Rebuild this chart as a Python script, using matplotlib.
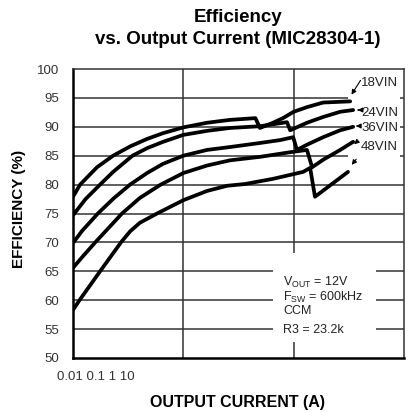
import matplotlib
matplotlib.use("Agg")
import matplotlib.pyplot as plt
from matplotlib.patches import Rectangle

plt.rcParams["font.family"] = ["Liberation Sans", "DejaVu Sans"]

# ---- data ----
i_18 = [0.01, 0.0116, 0.0165, 0.0231, 0.0329, 0.0469, 0.0655, 0.1, 0.164, 0.265, 0.45, 0.495, 0.65, 0.8, 1.0, 1.32, 1.85, 3.25]
e_18 = [77.9, 80.0, 83.0, 85.0, 86.6, 87.9, 88.9, 89.9, 90.7, 91.2, 91.5, 89.8, 90.7, 91.5, 92.6, 93.4, 94.2, 94.4]

i_24 = [0.01, 0.013, 0.0176, 0.0231, 0.0346, 0.0469, 0.0655, 0.1, 0.164, 0.265, 0.495, 0.87, 0.93, 1.32, 1.85, 2.64, 3.46]
e_24 = [74.7, 77.5, 80.0, 82.2, 85.0, 86.3, 87.4, 88.6, 89.3, 89.8, 90.1, 90.8, 89.4, 90.7, 91.7, 92.6, 92.9]

i_36 = [0.01, 0.0121, 0.0168, 0.0233, 0.0329, 0.0469, 0.0655, 0.1, 0.164, 0.265, 0.495, 0.753, 0.99, 1.07, 1.32, 1.85, 2.64, 3.46]
e_36 = [69.9, 72.0, 75.0, 77.6, 80.0, 82.0, 83.6, 85.0, 86.0, 86.5, 87.2, 87.7, 88.2, 86.0, 86.9, 88.2, 89.4, 90.0]

i_48 = [0.01, 0.0123, 0.0159, 0.0278, 0.0404, 0.0624, 0.1, 0.164, 0.265, 0.495, 0.927, 1.32, 1.47, 1.85, 2.64, 3.46]
e_48 = [65.6, 67.6, 70.0, 75.0, 77.7, 80.0, 82.0, 83.3, 84.2, 84.8, 85.6, 86.0, 83.0, 84.3, 86.0, 87.4]

i_5 = [0.01, 0.01145, 0.0176, 0.0272, 0.0329, 0.0404, 0.0578, 0.1, 0.164, 0.25, 0.362, 0.65, 1.22, 1.41, 1.56, 3.11]
e_5 = [58.3, 60.0, 65.0, 70.0, 71.9, 73.4, 75.0, 77.3, 78.9, 79.8, 80.1, 81.0, 82.2, 82.9, 77.9, 82.2]

series_labels = ["18VIN", "24VIN", "36VIN", "48VIN", ""]
xtick_labels = ["0.01", "0.1", "1", "10"]
yticks = [50, 55, 60, 65, 70, 75, 80, 85, 90, 95, 100]

fig = plt.figure(figsize=(4.12, 4.12), dpi=100)
ax = fig.add_axes([73/412, 54/412, 331/412, 289/412])
ax.set_xscale("log")
ax.set_xlim(0.01, 10)
ax.set_ylim(50, 100)

for y in yticks[1:-1]:
    ax.axhline(y, color="#333333", lw=1.1, zorder=0.5)
for x in [0.1, 1]:
    ax.axvline(x, color="#333333", lw=1.1, zorder=0.5)

# white areas behind labels / note
ax.add_patch(Rectangle((0.83, 0.685), 0.158, 0.295, transform=ax.transAxes,
                       facecolor="white", edgecolor="none", zorder=1))
ax.add_patch(Rectangle((0.605, 0.055), 0.31, 0.31, transform=ax.transAxes,
                       facecolor="white", edgecolor="none", zorder=1))

for xs, ys in [(i_18, e_18), (i_24, e_24), (i_36, e_36), (i_48, e_48), (i_5, e_5)]:
    ax.plot(xs, ys, color="black", lw=2.7, zorder=3, solid_joinstyle="round", solid_capstyle="round")

ax.set_yticks(yticks)
ax.set_yticklabels([str(v) for v in yticks], fontsize=9.5, color="#333333")
ax.set_xticks([])
ax.set_xticks([], minor=True)
ax.tick_params(axis="y", length=0, pad=10)
for s in ["left", "bottom"]:
    ax.spines[s].set_linewidth(1.8)
for s in ["top", "right"]:
    ax.spines[s].set_linewidth(1.1)
    ax.spines[s].set_color("#333333")

ax.text(-0.047, -0.065, " ".join(xtick_labels), transform=ax.transAxes,
        fontsize=9.5, color="#333333", ha="left", va="center")

# curve labels with arrows
lab_y = [83, 113, 128, 147]
lab_x = 361
arrow_specs = [((362, 78), (350, 97)), ((361, 110), (355, 110)), ((360, 126), (356, 126)),
               ((359, 140), (352, 146)), ((358, 157), (350, 167))]
for k, lab in enumerate(series_labels):
    (tx, ty), (hx, hy) = arrow_specs[k]
    ax.annotate("", xy=(hx/412, 1-hy/412), xycoords="figure fraction",
                xytext=(tx/412, 1-ty/412), textcoords="figure fraction",
                arrowprops=dict(arrowstyle="-|>", color="black", lw=0.8, mutation_scale=7), zorder=4)
    if lab:
        fig.text(lab_x/412, 1-lab_y[k]/412, lab, fontsize=9.5, color="#222222",
                 ha="left", va="center")

note = "$\\mathregular{V_{OUT}}$ = 12V\n$\\mathregular{F_{SW}}$ = 600kHz\nCCM"
fig.text(283/412, 1-296/412, note, fontsize=9, color="#222222",
         ha="left", va="center", linespacing=0.95)
fig.text(283/412, 1-330/412, "R3 = 23.2k", fontsize=9, color="#222222",
         ha="left", va="center")

fig.text(238/412, 1-18/412, "Efficiency", fontsize=13.5, fontweight="bold", ha="center", va="center")
fig.text(238/412, 1-40/412, "vs. Output Current (MIC28304-1)", fontsize=13.5, fontweight="bold",
         ha="center", va="center")
fig.text(19/412, 1-209/412, "EFFICIENCY (%)", fontsize=11, fontweight="bold", rotation=90,
         ha="center", va="center")
fig.text(237/412, 1-402/412, "OUTPUT CURRENT (A)", fontsize=11.5, fontweight="bold",
         ha="center", va="center")

fig.savefig("out.png", dpi=100)
